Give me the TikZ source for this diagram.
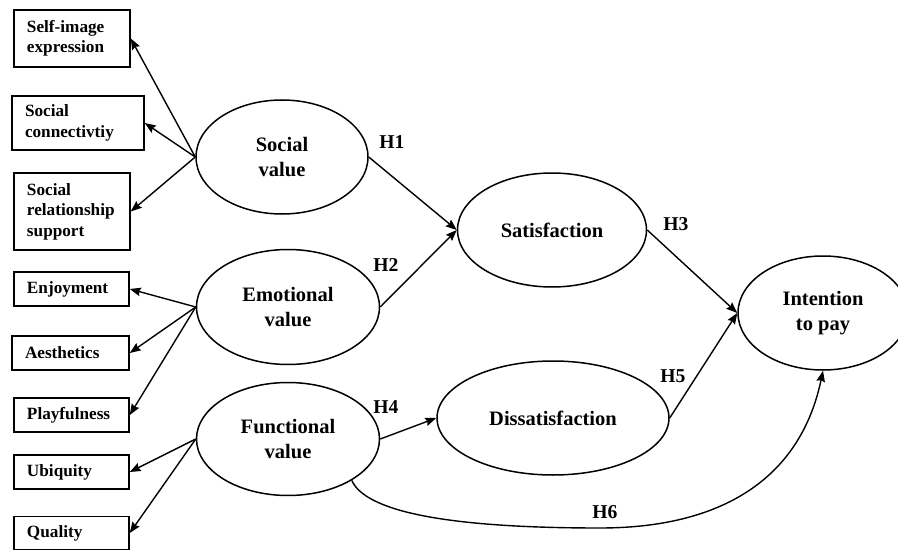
\documentclass[tikz,border=0pt]{standalone}
\usepackage{fontspec}
\setmainfont{Liberation Serif}
\usetikzlibrary{shapes.geometric,arrows.meta}
\begin{document}
\begin{tikzpicture}[x=1pt,y=-1pt,
  lat/.style={draw, ellipse, line width=1.5pt, inner sep=0pt, align=center,
    font=\bfseries\fontsize{20.5}{24.5}\selectfont},
  ind/.style={draw, rectangle, line width=1.5pt, inner xsep=13pt, inner ysep=0pt,
    align=left, font=\bfseries\fontsize{17.2}{20.5}\selectfont},
  hyp/.style={font=\bfseries\fontsize{19.6}{22}\selectfont, inner sep=0pt},
  arr/.style={line width=1.4pt, -{Stealth[length=11pt,width=8.5pt,inset=1.5pt]}}
]
\useasboundingbox (0,0) rectangle (898,551);

% indicator boxes
\node[ind, minimum width=116pt, text width=90pt, minimum height=57pt] (selfimg) at (72,38.5) {Self-image\\expression};
\node[ind, minimum width=132pt, text width=106pt, minimum height=54pt] (socconn) at (78,123) {Social\\connectivtiy};
\node[ind, minimum width=116pt, text width=90pt, minimum height=77pt] (socrel) at (72,211.5) {Social\\relationship\\support};
\node[ind, minimum width=115pt, text width=89pt, minimum height=34pt] (enjoy) at (71.5,289) {Enjoyment};
\node[ind, minimum width=117pt, text width=91pt, minimum height=34pt] (aesth) at (70.5,353) {Aesthetics};
\node[ind, minimum width=115pt, text width=89pt, minimum height=34pt] (playf) at (71.5,415) {Playfulness};
\node[ind, minimum width=115pt, text width=89pt, minimum height=34pt] (ubiq) at (71.5,472) {Ubiquity};
\node[ind, minimum width=115pt, text width=89pt, minimum height=33pt] (qual) at (71.5,533) {Quality};

% latent constructs
\node[lat, minimum width=172pt, minimum height=114pt] (social) at (282,157) {Social\\value};
\node[lat, minimum width=183pt, minimum height=115pt] (emot) at (288,307) {Emotional\\value};
\node[lat, minimum width=183pt, minimum height=113pt] (func) at (288,439) {Functional\\value};
\node[lat, minimum width=189pt, minimum height=114pt] (sat) at (552,230) {Satisfaction};
\node[lat, minimum width=232pt, minimum height=114pt] (dis) at (553,418) {Dissatisfaction};
\node[lat, minimum width=170pt, minimum height=114pt] (intent) at (823,313) {Intention\\to pay};

% measurement arrows
\draw[arr] (social.west) -- (selfimg.east);
\draw[arr] (social.west) -- (socconn.east);
\draw[arr] (social.west) -- (socrel.east);
\draw[arr] (emot.west) -- (enjoy.east);
\draw[arr] (emot.west) -- (aesth.east);
\draw[arr] (emot.west) -- (playf.east);
\draw[arr] (func.west) -- (ubiq.east);
\draw[arr] (func.west) -- (qual.east);

% structural paths
\draw[arr] (social.east) -- (sat.west);
\draw[arr] (emot.east) -- (sat.west);
\draw[arr] (sat.east) -- (intent.west);
\draw[arr] (dis.east) -- (intent.west);
\draw[arr] (func.east) -- (dis.west);
\coordinate (h6mid) at (600,528);
\draw[arr] (func.-33) .. controls (365,510) and (440,528) .. (h6mid)
  .. controls (720,528) and (800,480) .. (intent.south);

% hypothesis labels
\node[hyp] (h1) at (392,142) {H1};
\node[hyp] (h2) at (386,265) {H2};
\node[hyp] (h3) at (676,224) {H3};
\node[hyp] (h4) at (386,407) {H4};
\node[hyp] (h5) at (673,376) {H5};
\node[hyp] (h6) at (605,512) {H6};
\end{tikzpicture}
\end{document}
